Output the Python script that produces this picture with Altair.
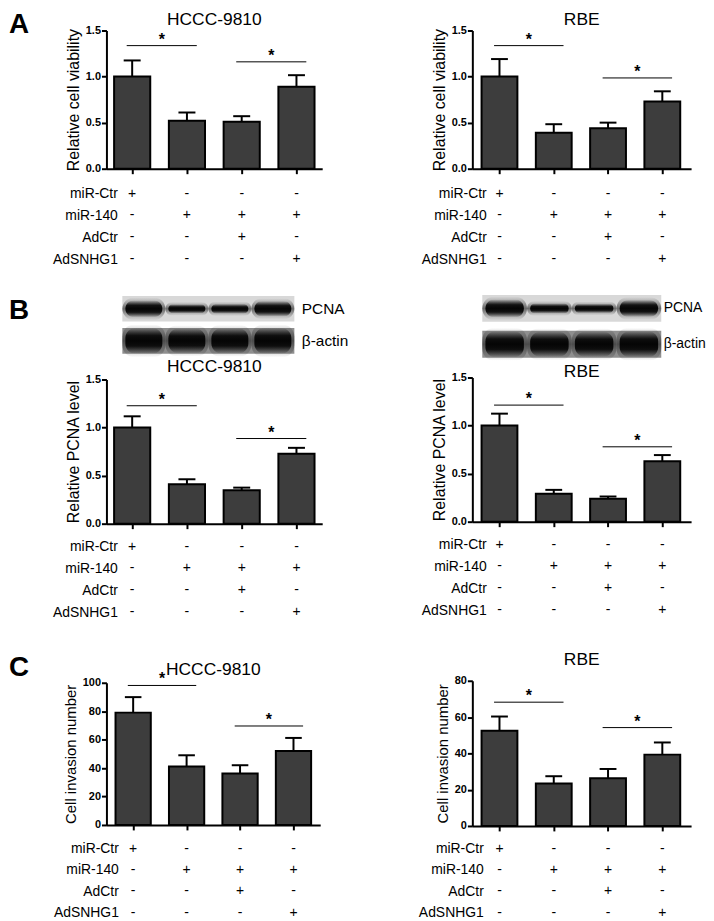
import altair as alt
import pandas as pd

FONT = "Liberation Sans"

# ---------------- data ----------------
groups = [1, 2, 3, 4]
factors = ["miR-Ctr", "miR-140", "AdCtr", "AdSNHG1"]
sign_mirctr = ["+", "-", "-", "-"]
sign_mir140 = ["-", "+", "+", "+"]
sign_adctr = ["-", "-", "+", "-"]
sign_adsnhg1 = ["-", "-", "-", "+"]
comparisons = [(1, 2), (3, 4)]

ticks_rel = [0.0, 0.5, 1.0, 1.5]
ticks_inv_hccc = [0, 20, 40, 60, 80, 100]
ticks_inv_rbe = [0, 20, 40, 60, 80]

# A: relative cell viability
via_hccc_mean = [1.00, 0.52, 0.51, 0.89]
via_hccc_err = [0.175, 0.09, 0.06, 0.125]
via_hccc_sig = [1.336, 1.16]
via_rbe_mean = [1.00, 0.39, 0.44, 0.73]
via_rbe_err = [0.19, 0.093, 0.06, 0.11]
via_rbe_sig = [1.336, 0.985]

# B: relative PCNA level
pcna_hccc_mean = [1.00, 0.41, 0.348, 0.727]
pcna_hccc_err = [0.117, 0.052, 0.027, 0.062]
pcna_hccc_sig = [1.227, 0.886]
pcna_rbe_mean = [1.00, 0.29, 0.238, 0.628]
pcna_rbe_err = [0.124, 0.041, 0.024, 0.065]
pcna_rbe_sig = [1.213, 0.779]

# western blot band strength (relative to beta-actin band)
blot_rows = ["PCNA", "β-actin"]
blot_hccc_pcna = [0.66, 0.36, 0.38, 0.60]
blot_hccc_actin = [1.0, 0.95, 0.97, 1.0]
blot_rbe_pcna = [0.70, 0.40, 0.36, 0.66]
blot_rbe_actin = [1.0, 0.97, 0.97, 1.0]

# C: cell invasion number
inv_hccc_mean = [79.0, 41.1, 36.2, 52.0]
inv_hccc_err = [10.9, 7.9, 5.8, 9.2]
inv_hccc_sig = [98.1, 69.6]
inv_rbe_mean = [52.4, 23.4, 26.3, 39.3]
inv_rbe_err = [7.9, 4.0, 5.1, 6.7]
inv_rbe_sig = [68.2, 54.2]


# ---------------- builders ----------------
def text_layer(txt, x, y, size, weight="normal"):
    tdf = pd.DataFrame({"t": [txt]})
    return alt.Chart(tdf).mark_text(
        font=FONT, fontSize=size, fontWeight=weight, color="black",
        align="center", baseline="middle"
    ).encode(text="t:N", x=alt.value(x), y=alt.value(y))


def bar_panel(title, means, errs, sig, ytitle, ytsize, yticks, yfmt, width, height,
              xdom, title_y, letter=None, letter_y=0):
    df = pd.DataFrame({"g": groups, "mean": means, "err": errs})
    df["top"] = df["mean"] + df["err"]
    xs = alt.Scale(domain=xdom, nice=False, zero=False)
    ys = alt.Scale(domain=[yticks[0], yticks[-1]], nice=False)
    xaxis = alt.Axis(values=groups, labels=False, title=None, ticks=True,
                     tickSize=5, tickWidth=2, tickColor="black",
                     domainColor="black", domainWidth=2, grid=False)
    yaxis = alt.Axis(values=yticks, format=yfmt, title=ytitle, grid=False,
                     tickSize=5, tickWidth=2, tickColor="black",
                     domainColor="black", domainWidth=2,
                     labelFont=FONT, labelFontSize=11, labelFontWeight="bold",
                     labelColor="black", labelPadding=1,
                     titleFont=FONT, titleFontSize=ytsize, titleFontWeight="normal",
                     titleColor="black", titlePadding=4)
    base = alt.Chart(df)
    stems = base.mark_rule(color="black", strokeWidth=2).encode(
        x=alt.X("g:Q", scale=xs, axis=xaxis),
        y=alt.Y("mean:Q", scale=ys, axis=yaxis),
        y2="top:Q")
    caps = base.transform_calculate(
        c1="datum.g - 0.155", c2="datum.g + 0.155"
    ).mark_rule(color="black", strokeWidth=2).encode(
        x=alt.X("c1:Q", scale=xs, axis=xaxis), x2="c2:Q",
        y=alt.Y("top:Q", scale=ys, axis=yaxis))
    bars = base.transform_calculate(
        b1="datum.g - 0.33", b2="datum.g + 0.33"
    ).mark_bar(fill="#3d3d3d", stroke="black", strokeWidth=2).encode(
        x=alt.X("b1:Q", scale=xs, axis=xaxis), x2="b2:Q",
        y=alt.Y("mean:Q", scale=ys, axis=yaxis), y2=alt.Y2Datum(0))
    sdf = pd.DataFrame({"g1": [c[0] for c in comparisons],
                        "g2": [c[1] for c in comparisons],
                        "level": sig, "star": ["*"] * len(sig)})
    sbase = alt.Chart(sdf).transform_calculate(
        s1="datum.g1 - 0.1", s2="datum.g2 + 0.18",
        mid="(datum.g1 + datum.g2) / 2 + 0.04")
    lines = sbase.mark_rule(color="black", strokeWidth=1).encode(
        x=alt.X("s1:Q", scale=xs, axis=xaxis), x2="s2:Q",
        y=alt.Y("level:Q", scale=ys, axis=yaxis))
    stars = sbase.mark_text(font=FONT, fontSize=16, fontWeight="bold",
                            baseline="alphabetic", dy=-1, color="black").encode(
        x=alt.X("mid:Q", scale=xs, axis=xaxis),
        y=alt.Y("level:Q", scale=ys, axis=yaxis), text="star:N")
    layers = [stems, caps, bars, lines, stars,
              text_layer(title, width / 2, title_y, 17.5)]
    if letter:
        layers.append(text_layer(letter, -88, letter_y, 28, "bold"))
    return alt.layer(*layers).properties(width=width, height=height)


def label_panel(width, xdom, pad, yrange, height):
    rows = []
    for f, s in zip(factors, [sign_mirctr, sign_mir140, sign_adctr, sign_adsnhg1]):
        for g, v in zip(groups, s):
            rows.append({"factor": f, "g": g, "s": v})
    df = pd.DataFrame(rows)
    return alt.Chart(df).mark_text(font=FONT, fontSize=14, color="black",
                                   baseline="middle").encode(
        x=alt.X("g:Q", scale=alt.Scale(domain=xdom, nice=False, zero=False), axis=None),
        y=alt.Y("factor:N", sort=factors,
                scale=alt.Scale(type="point", range=yrange, padding=0.5),
                axis=alt.Axis(title=None, domain=False, ticks=False,
                              labelFont=FONT, labelFontSize=14, labelColor="black",
                              labelPadding=pad, labelAlign="right")),
        text="s:N").properties(width=width, height=height)


def blot_panel(pcna, actin, lane_range, width, height, yrange, inner, label_pad,
               label_size, letter=None, letter_y=0):
    lanes = pd.DataFrame({"lane": groups * 2,
                          "row": [blot_rows[0]] * 4 + [blot_rows[1]] * 4,
                          "level": pcna + actin})
    strips = pd.DataFrame({"row": blot_rows})
    xs = alt.Scale(domain=[0.5, 4.5], range=lane_range, nice=False, zero=False)
    ys = alt.Scale(type="band", domain=blot_rows, range=yrange,
                   paddingInner=inner, paddingOuter=0)
    yaxis = alt.Axis(orient="right", title=None, domain=False, ticks=False,
                     labelPadding=label_pad, labelFont=FONT,
                     labelFontSize=label_size, labelColor="black", labelAlign="left")
    strip = alt.Chart(strips).transform_calculate(a="0.5", b="4.5").mark_bar().encode(
        x=alt.X("a:Q", scale=xs, axis=None), x2="b:Q",
        y=alt.Y("row:N", scale=ys, axis=yaxis),
        color=alt.Color("row:N", scale=alt.Scale(domain=blot_rows,
                                                 range=["#d8d8d8", "#8f8f8f"]),
                        legend=None))
    halo_grad = alt.LinearGradient(
        gradient="linear", x1=0, y1=0, x2=0, y2=1,
        stops=[alt.GradientStop(color="rgba(30,30,30,0)", offset=0),
               alt.GradientStop(color="rgba(30,30,30,0.6)", offset=0.5),
               alt.GradientStop(color="rgba(30,30,30,0)", offset=1)])
    core_grad = alt.LinearGradient(
        gradient="linear", x1=0, y1=0, x2=0, y2=1,
        stops=[alt.GradientStop(color="rgba(5,5,5,0)", offset=0),
               alt.GradientStop(color="rgba(5,5,5,0.9)", offset=0.3),
               alt.GradientStop(color="rgba(5,5,5,1)", offset=0.5),
               alt.GradientStop(color="rgba(5,5,5,0.9)", offset=0.7),
               alt.GradientStop(color="rgba(5,5,5,0)", offset=1)])
    size_scale = alt.Scale(domain=[0, 1], range=[0, 26])
    halo = alt.Chart(lanes).transform_calculate(
        a="datum.lane - 0.5", b="datum.lane + 0.5", hl="datum.level * 1.15 + 0.12"
    ).mark_bar(fill=halo_grad, cornerRadius=12).encode(
        x=alt.X("a:Q", scale=xs, axis=None), x2="b:Q",
        y=alt.Y("row:N", scale=ys, axis=yaxis),
        size=alt.Size("hl:Q", scale=size_scale, legend=None))
    core = alt.Chart(lanes).transform_calculate(
        a="datum.lane - 0.43", b="datum.lane + 0.43"
    ).mark_bar(fill=core_grad, cornerRadius=10).encode(
        x=alt.X("a:Q", scale=xs, axis=None), x2="b:Q",
        y=alt.Y("row:N", scale=ys, axis=yaxis),
        size=alt.Size("level:Q", scale=size_scale, legend=None))
    layers = [strip, halo, core]
    if letter:
        layers.append(text_layer(letter, -88, letter_y, 28, "bold"))
    return alt.layer(*layers).properties(width=width, height=height)


# ---------------- left column (HCCC-9810) ----------------
XL = [0.53, 4.47]
XLC = [0.5, 4.5]
XR = [0.5, 4.53]

barsA_L = bar_panel("HCCC-9810", via_hccc_mean, via_hccc_err, via_hccc_sig,
                    "Relative cell viability", 16, ticks_rel, ".1f", 217, 139, XL,
                    -11, letter="A", letter_y=-5)
labA_L = label_panel(217, XL, -11, [8, 96], 114)
blotB_L = blot_panel(blot_hccc_pcna, blot_hccc_actin, [16, 189], 189, 66,
                     [8, 66], 0.2, 7, 15.5, letter="B", letter_y=23)
barsB_L = bar_panel("HCCC-9810", pcna_hccc_mean, pcna_hccc_err, pcna_hccc_sig,
                    "Relative PCNA level", 16, ticks_rel, ".1f", 217, 145, XL, -13)
labB_L = label_panel(217, XL, -11, [6, 94], 125)
barsC_L = bar_panel("HCCC-9810", inv_hccc_mean, inv_hccc_err, inv_hccc_sig,
                    "Cell invasion number", 15, ticks_inv_hccc, "d", 215, 143, XLC,
                    -13, letter="C", letter_y=-15)
labC_L = label_panel(215, XLC, -12, [7, 93], 92)

# ---------------- right column (RBE) ----------------
barsA_R = bar_panel("RBE", via_rbe_mean, via_rbe_err, via_rbe_sig,
                    "Relative cell viability", 16, ticks_rel, ".1f", 220, 139, XR, -11)
labA_R = label_panel(220, XR, -14, [8, 96], 114)
blotB_R = blot_panel(blot_rbe_pcna, blot_rbe_actin, [10, 190], 190, 75,
                     [7, 70], 0.25, 2, 14)
barsB_R = bar_panel("RBE", pcna_rbe_mean, pcna_rbe_err, pcna_rbe_sig,
                    "Relative PCNA level", 16, ticks_rel, ".1f", 220, 145, XR, -6)
labB_R = label_panel(220, XR, -14, [6, 94], 124)
barsC_R = bar_panel("RBE", inv_rbe_mean, inv_rbe_err, inv_rbe_sig,
                    "Cell invasion number", 15, ticks_inv_rbe, "d", 220, 146, XR, -21)
labC_R = label_panel(220, XR, -11, [6, 92], 92)

left_col = alt.vconcat(barsA_L, labA_L, blotB_L, barsB_L, labB_L, barsC_L, labC_L,
                       spacing=0)
right_col = alt.vconcat(barsA_R, labA_R, blotB_R, barsB_R, labB_R, barsC_R, labC_R,
                        spacing=0)

chart = alt.hconcat(left_col, right_col, spacing=70).properties(
    padding=0, background="white"
).configure_view(stroke=None)

chart.save("out.html", embed_options={"renderer": "svg", "actions": False})
